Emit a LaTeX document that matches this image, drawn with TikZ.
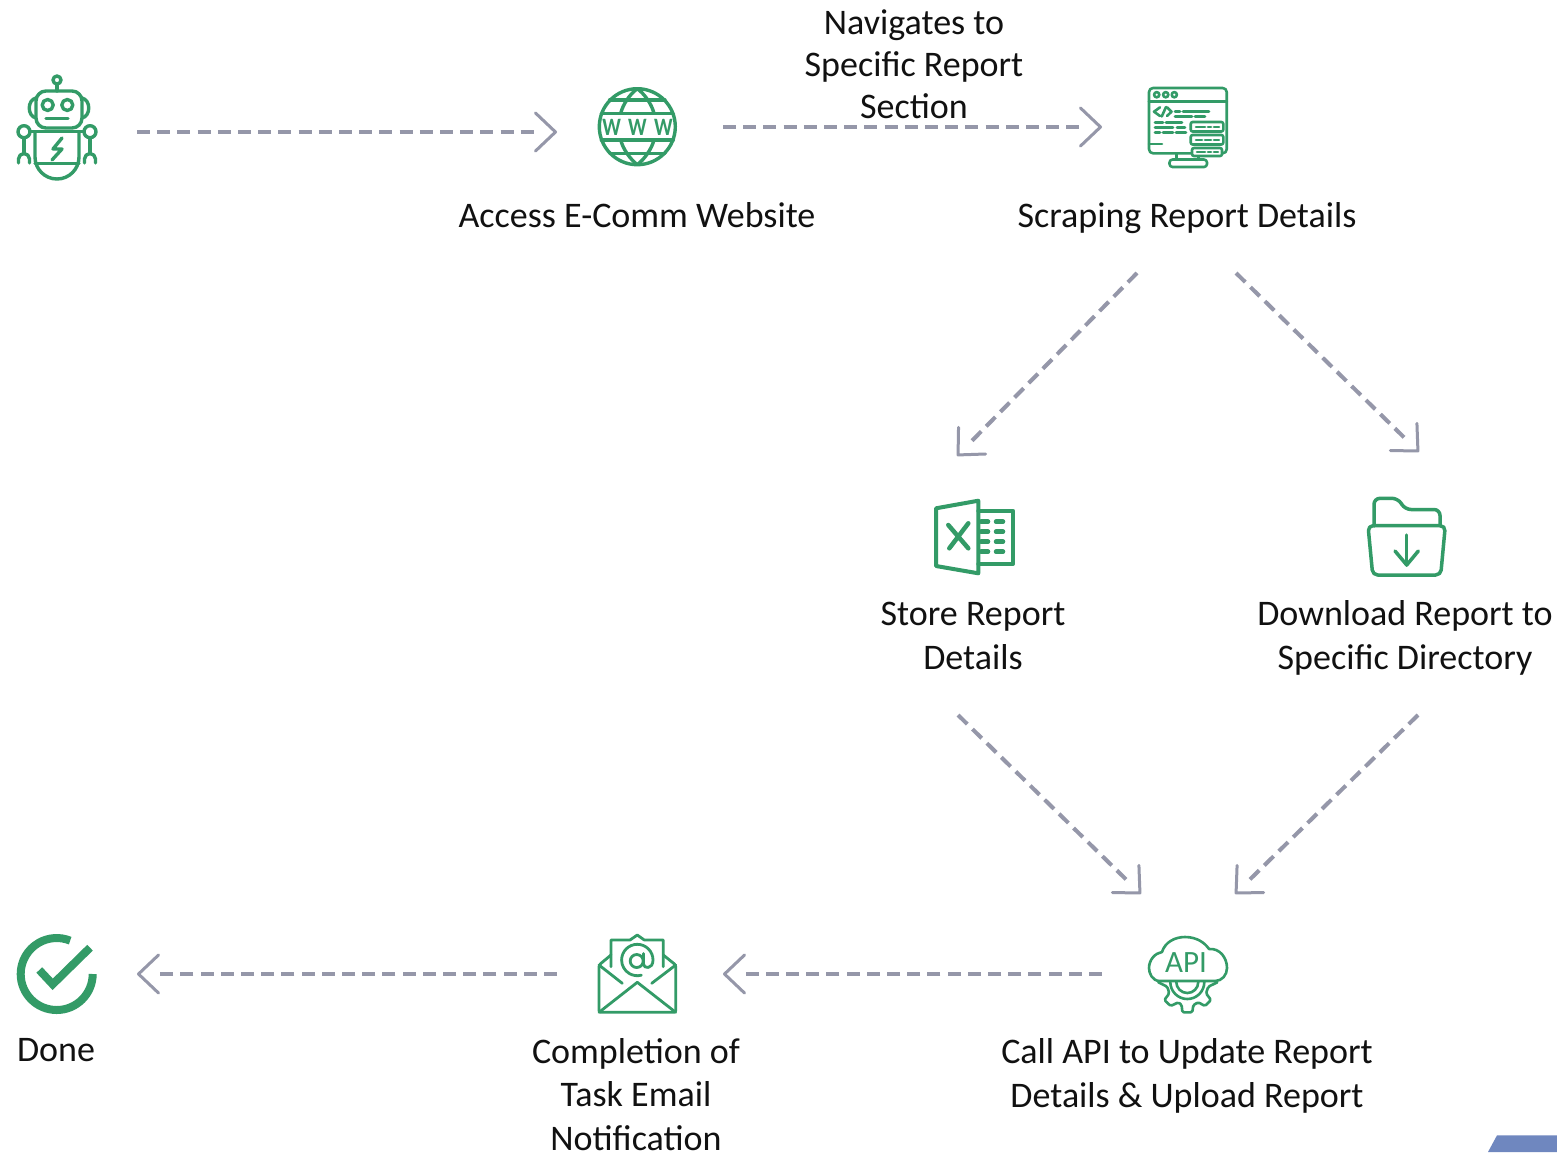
\documentclass[tikz,border=0pt]{standalone}
\usepackage{fontspec}
\setmainfont{Carlito}
\usetikzlibrary{arrows.meta}
\definecolor{icongreen}{HTML}{339B67}
\definecolor{flowgray}{HTML}{9597A9}
\definecolor{bandblue}{HTML}{6F87BF}
\definecolor{inkblack}{HTML}{111111}
\tikzset{
  flow/.style={draw=flowgray,line width=4pt,dash pattern=on 13pt off 7.2pt,shorten >=21pt,
    postaction={draw=flowgray,shorten >=0pt,dash pattern=on 0pt off 4000pt,
      -{Straight Barb[length=20pt,width=38pt,line width=3pt,round]}}},
  iconbox/.style={minimum width=80pt,minimum height=80pt,inner sep=0pt,outer sep=0pt},
  lbl/.style={font=\fontsize{36}{44}\selectfont,text=inkblack,align=center,inner sep=0pt,outer sep=0pt},
  ico/.style={draw=icongreen,line width=3.4pt,line cap=round,line join=round},
  thin ico/.style={draw=icongreen,line width=2.6pt,line cap=round,line join=round},
  cutfill/.style={fill=white},
  wwwletter/.style={inner sep=0pt,text=icongreen,font=\fontsize{25}{25}\selectfont\bfseries},
}
\begin{document}
\begin{tikzpicture}[x=1pt,y=-1pt]
\useasboundingbox (0,0) rectangle (1557,1152);
\fill[white] (0,0) rectangle (1557,1152);
% anchors of icons
\node[iconbox] (bot) at (57,127) {};
\node[iconbox] (www) at (637,127) {};
\node[iconbox] (scrape) at (1188,127) {};
\node[iconbox] (store) at (974,537) {};
\node[iconbox] (folder) at (1406,537) {};
\node[iconbox] (api) at (1188,974) {};
\node[iconbox] (mail) at (637,974) {};
\node[iconbox] (done) at (57,974) {};
% labels
\node[lbl,font=\fontsize{36}{42}\selectfont] (navL) at (914,64) {Navigates to\\Specific Report\\Section};
\node[lbl] (wwwL) at (637,215.5) {Access E-Comm Website};
\node[lbl] (scrapeL) at (1187,218) {Scraping Report Details};
\node[lbl] (storeL) at (973,635.5) {Store Report\\Details};
\node[lbl] (folderL) at (1405,638) {Download Report to\\Specific Directory};
\node[lbl] (apiL) at (1187,1076) {Call API to Update Report\\Details \& Upload Report};
\node[lbl,font=\fontsize{36}{43.5}\selectfont] (mailL) at (636,1094.5) {Completion of\\Task Email\\Notification};
\node[lbl] (doneL) at (56,1050) {Done};
% connectors
\draw[flow] ([shift={(80,5)}]bot.center) -- ([shift={(-80,5)}]www.center);
\draw[flow] ([shift={(86,0)}]www.center) -- ([shift={(-86,0)}]scrape.center);
\draw[flow] ([shift={(-51,146)}]scrape.center) -- ([shift={(-17,-81)}]store.center);
\draw[flow] ([shift={(48,146)}]scrape.center) -- ([shift={(13,-85)}]folder.center);
\draw[flow] ([shift={(-16,178)}]store.center) -- ([shift={(-47,-80)}]api.center);
\draw[flow] ([shift={(12,178)}]folder.center) -- ([shift={(47,-80)}]api.center);
\draw[flow] ([shift={(-86,0)}]api.center) -- ([shift={(86,0)}]mail.center);
\draw[flow] ([shift={(-80,0)}]mail.center) -- ([shift={(80,0)}]done.center);
% robot
\begin{scope}[ico]
\draw (57,80) circle (4);
\draw (57,84) -- (57,91);
\draw[rounded corners=10] (36,91) rectangle (82,128);
\draw (47.7,105) circle (5.5);
\draw (67.3,105) circle (5.5);
\draw (46,118.3) -- (68,118.3);
\draw (36,98) .. controls (27,100) and (27,116) .. (36,118);
\draw (82,98) .. controls (91,100) and (91,116) .. (82,118);
\draw (24,131.7) circle (6);
\draw (90,131.7) circle (6);
\draw (30,131.7) -- (84,131.7);
\draw (35,131.7) -- (35,157) arc (180:0:22) -- (79,131.7);
\draw (35,163.5) -- (79,163.5);
\draw (24,137.7) -- (24,153);
\draw (90,137.7) -- (90,153);
\draw (18.5,163) -- (18.5,159) arc (180:360:5.5) -- (29.5,163);
\draw (84.5,163) -- (84.5,159) arc (180:360:5.5) -- (95.5,163);
\draw (62,138) -- (53,149) -- (62,149) -- (52,160);
\end{scope}
% globe
\begin{scope}[ico]
\draw (637.3,126.7) circle (38);
\draw (609.6,100) -- (665,100);
\draw (601.3,113.3) -- (673.3,113.3);
\draw (601.3,140) -- (673.3,140);
\draw (609.6,153.3) -- (665,153.3);
\draw (620.7,113.3) .. controls (623,104) and (630,94) .. (637.3,88.7) .. controls (644.6,94) and (651.6,104) .. (654,113.3);
\draw (620.7,140) .. controls (623,149) and (630,159) .. (637.3,164.7) .. controls (644.6,159) and (651.6,149) .. (654,140);
\end{scope}
\node[wwwletter] (wwwA) at (611.7,127) {\scalebox{.82}[1]{W}};
\node[wwwletter] (wwwB) at (637.3,127) {\scalebox{.82}[1]{W}};
\node[wwwletter] (wwwC) at (663.3,127) {\scalebox{.82}[1]{W}};
% code monitor
\begin{scope}[thin ico]
\draw[rounded corners=4] (1149,88) rectangle (1226.7,153.3);
\draw (1149,101.7) -- (1226.7,101.7);
\draw (1156.7,94.7) circle (2.6);
\draw (1165.7,94.7) circle (2.6);
\draw (1174.3,94.7) circle (2.6);
\draw (1160,107.3) -- (1154,111.7) -- (1160,116);
\draw (1166,107) -- (1161.7,116.5);
\draw (1167,107.3) -- (1171.5,111.7) -- (1167,116);
\draw (1175,111.7) -- (1180,111.7) (1183,111.7) -- (1209,111.7);
\draw (1175,116.7) -- (1192,116.7) (1195,116.7) -- (1205,116.7);
\draw (1155,122.3) -- (1163,122.3) (1166,122.3) -- (1182,122.3);
\draw (1155,127.3) -- (1173,127.3) (1177,127.3) -- (1185,127.3);
\draw (1155,132.3) -- (1160,132.3) (1163,132.3) -- (1173,132.3) (1176,132.3) -- (1186,132.3);
\draw (1149,144) -- (1162,144);
\draw (1176.7,153.3) -- (1176.7,159) (1198.3,153.3) -- (1198.3,159);
\draw[rounded corners=3] (1169.5,159.5) rectangle (1207,167);
\draw[cutfill,rounded corners=2] (1190.7,122) rectangle (1223.3,131.5);
\draw[cutfill,rounded corners=2] (1190.7,135) rectangle (1223.3,144.5);
\draw[cutfill,rounded corners=2] (1192,148) rectangle (1222,156);
\draw (1196,126.8) -- (1205,126.8) (1208,126.8) -- (1211,126.8) (1214,126.8) -- (1219,126.8);
\draw (1196,139.8) -- (1202,139.8) (1205,139.8) -- (1211,139.8) (1214,139.8) -- (1219,139.8);
\draw (1197,152) -- (1205,152) (1208,152) -- (1211,152) (1214,152) -- (1218,152);
\end{scope}
% excel
\begin{scope}[ico,line width=4pt]
\draw (936,508.3) -- (978.3,500.7) -- (978.3,573.3) -- (936,566) -- cycle;
\draw (978.3,510.7) -- (1013,510.7) -- (1013,564) -- (978.3,564);
\draw[line width=4.5pt] (948.3,525) -- (968.3,548.3) (968.3,523.3) -- (949.3,548.3);
\draw[line width=4.5pt] (981,521.7) -- (988,521.7) (996,521.7) -- (1003,521.7);
\draw[line width=4.5pt] (981,531.7) -- (988,531.7) (996,531.7) -- (1003,531.7);
\draw[line width=4.5pt] (981,541.7) -- (988,541.7) (996,541.7) -- (1003,541.7);
\draw[line width=4.5pt] (981,551.7) -- (988,551.7) (996,551.7) -- (1003,551.7);
\end{scope}
% folder
\begin{scope}[ico,line width=3.5pt]
\draw[rounded corners=6] (1374,526) -- (1374,498.3) -- (1398,498.3) -- (1405,509.5) -- (1440,509.5) -- (1440,526);
\draw[rounded corners=5] (1368,525.7) -- (1445.3,525.7) -- (1440.7,575) -- (1372.7,575) -- cycle;
\draw (1406.7,535) -- (1406.7,565);
\draw (1395,551) -- (1406.7,565) -- (1418.3,551);
\end{scope}
% api
\begin{scope}[thin ico]
\draw (1160,981) .. controls (1152,981) and (1149,973) .. (1149,968) .. controls (1149,960) and (1155,953) .. (1162,952) .. controls (1165,942) and (1175,937) .. (1185,937) .. controls (1197,937) and (1205,943) .. (1209,949) .. controls (1220,948) and (1227,958) .. (1227,968) .. controls (1227,975) and (1222,981) .. (1215,981) -- cycle;
\draw[rounded corners=1.5] (1158.3,982.3) -- (1167.3,986.7) -- (1169.3,993.3) -- (1164.3,1000) -- (1170.7,1006) -- (1178.3,1002.3) -- (1181.7,1005) -- (1182.3,1012.3) -- (1192.3,1012.3) -- (1193.3,1005) -- (1198.3,1002.3) -- (1205,1006) -- (1211,1000) -- (1206,993.3) -- (1208.3,986.7) -- (1217.3,982.3);
\draw (1170.3,982) arc (180:0:17);
\draw (1176.3,982) arc (180:0:11);
\end{scope}
\node[inner sep=0pt,text=icongreen,font=\fontsize{31}{31}\selectfont] (apiT) at (1186,963) {API};
% envelope
\begin{scope}[ico,line width=2.8pt]
\draw[rounded corners=1.5] (611,955) -- (599,965) -- (599,1012.3) -- (675.7,1012.3) -- (675.7,965) -- (663.3,955);
\draw (611,966.7) -- (611,940) -- (630,940) -- (637.3,935) -- (644.3,940) -- (663.3,940) -- (663.3,966.7);
\draw (599,965) -- (622.3,983.3) (675.7,965) -- (651.7,983.3);
\draw (599,1012.3) -- (637.3,982.3) -- (675.7,1012.3);
\draw (636.7,961) circle (6.5);
\draw (643.5,953.5) -- (643.5,964) .. controls (643.5,969) and (653,969.5) .. (653,960) arc (0:-285:15.7);
\end{scope}
% check
\draw[icongreen,line width=8pt] (92.7,974) arc (0:292:36);
\draw[icongreen,line width=8pt,miter limit=10] (39.3,970) -- (52.7,984.3) -- (90,947.7);
% blue band
\fill[bandblue] (1497,1135.3) -- (1557,1135.3) -- (1557,1152) -- (1488,1152) -- cycle;
\end{tikzpicture}
\end{document}
